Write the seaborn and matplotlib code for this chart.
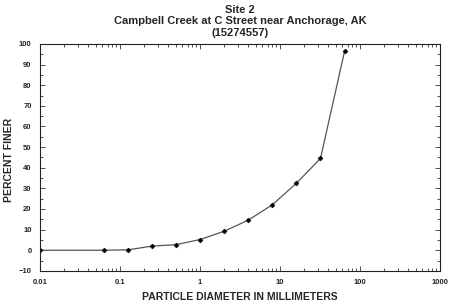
import matplotlib
matplotlib.use("Agg")
import matplotlib.pyplot as plt
import seaborn as sns
import pandas as pd
from matplotlib.ticker import LogLocator, FixedLocator, MultipleLocator, FixedFormatter

diameter_mm = [0.01, 0.0625, 0.125, 0.25, 0.5, 1, 2, 4, 8, 16, 32, 64]
percent_finer = [0, 0, 0.2, 2, 2.7, 5.2, 9.2, 14.6, 22, 32.5, 44.5, 96.5]
x_ticks = [0.01, 0.1, 1, 10, 100, 1000]
x_tick_labels = ["0.01", "0.1", "1", "10", "100", "1000"]
y_ticks = list(range(-10, 101, 10))

sns.set_theme(style="ticks")
plt.rcParams['font.family'] = ['Liberation Sans', 'DejaVu Sans']
plt.rcParams['font.weight'] = 'bold'

df = pd.DataFrame({"d": diameter_mm, "p": percent_finer})

fig = plt.figure(figsize=(4.5, 3.03), dpi=100)
ax = fig.add_axes([0.089, 0.106, 0.889, 0.749])
sns.lineplot(data=df, x="d", y="p", ax=ax, color="#555555", linewidth=0.9,
             marker="D", markersize=2.6, markerfacecolor="black",
             markeredgecolor="black", markeredgewidth=0.3)
ax.set_xscale("log")
ax.set_xlim(0.01, 1000)
ax.set_ylim(-10, 100)
ax.xaxis.set_major_locator(FixedLocator(x_ticks))
ax.xaxis.set_major_formatter(FixedFormatter(x_tick_labels))
ax.xaxis.set_minor_locator(LogLocator(base=10, subs=range(2, 10), numticks=20))
ax.yaxis.set_major_locator(FixedLocator(y_ticks))
ax.yaxis.set_minor_locator(MultipleLocator(5))
ax.tick_params(which="both", direction="in", top=True, right=True, width=0.6, color="#333333")
ax.tick_params(which="major", length=3.5, labelsize=5.5, pad=6)
ax.tick_params(which="minor", length=2)
ax.xaxis.set_minor_formatter(plt.NullFormatter())
for lbl in ax.get_xticklabels() + ax.get_yticklabels():
    lbl.set_fontweight("bold")
for s in ax.spines.values():
    s.set_linewidth(0.8)
    s.set_color("#222222")
ax.set_xlabel("PARTICLE DIAMETER IN MILLIMETERS", fontsize=7.5, fontweight="bold", labelpad=4)
ax.set_ylabel("PERCENT FINER", fontsize=7.5, fontweight="bold", labelpad=2)
ax.yaxis.set_label_coords(-0.066, 0.49)
ax.set_title("Site 2\nCampbell Creek at C Street near Anchorage, AK\n(15274557)",
             fontsize=8, fontweight="bold", linespacing=1.15, pad=6)
fig.savefig("out.png", dpi=100)
